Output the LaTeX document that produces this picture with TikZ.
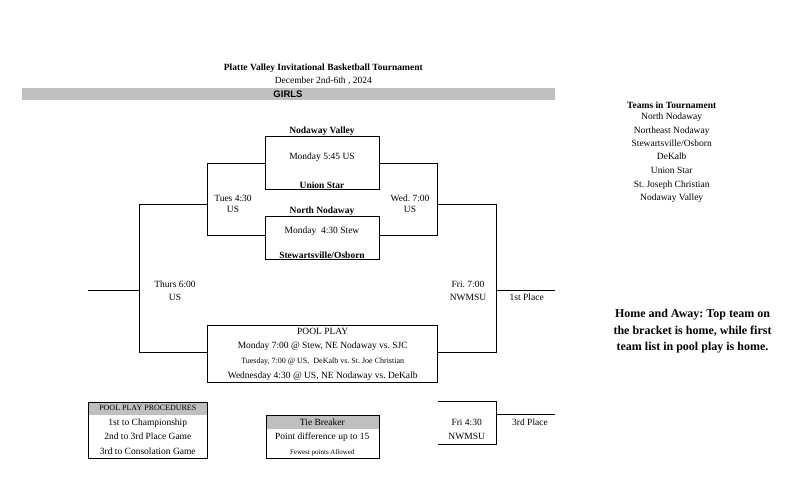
\documentclass[tikz,border=0pt]{standalone}
\usepackage{fontspec}
\setmainfont{Liberation Serif}
\setsansfont{Liberation Sans}
\definecolor{hdrgray}{RGB}{191,191,191}
\frenchspacing
\begin{document}
\begin{tikzpicture}[x=1pt,y=-1pt,
  txt/.style={inner sep=0pt,text height=7pt,text depth=1pt,font=\fontsize{9.5}{11}\selectfont},
  team/.style={txt,font=\fontsize{9.5}{11}\selectfont\bfseries},
  small/.style={txt,font=\fontsize{8}{9}\selectfont},
  tiny/.style={txt,font=\fontsize{7}{8}\selectfont},
  game/.style={draw,inner sep=0pt,minimum width=114,minimum height=53.3},
  panel/.style={draw,inner sep=0pt,anchor=north west}]
\pgfsetlinewidth{1pt}
\useasboundingbox (0,0) rectangle (786,487);
%
% heading
\node[team] (title) at (323.3,67.3) {Platte Valley Invitational Basketball Tournament};
\node[txt] (dates) at (323.3,80) {December 2nd-6th , 2024};
\fill[hdrgray] (22,88.3) rectangle (555,100);
\node[txt,font=\fontsize{9.5}{11}\selectfont\sffamily\bfseries] (girls) at (288,94) {GIRLS};
%
% first round games
\node[game] (g1) at (322,163.3) {};
\node[team] at (322,130) {Nodaway Valley};
\node[txt] at (322,156.7) {Monday 5:45 US};
\node[team] at (322,185) {Union Star};
\node[game,minimum height=43.3] (g2) at (322,238.3) {};
\node[team] at (322,210) {North Nodaway};
\node[txt] at (322,230.7) {Monday\ \ 4:30 Stew};
\node[team] at (322,255) {Stewartsville/Osborn};
%
% bracket corners
\coordinate (tues) at (207.7,204.3);
\coordinate (wed) at (437.3,204.3);
\coordinate (thur) at (139.5,290);
\coordinate (fri) at (496.5,290);
\coordinate (thurin) at (88,290);
\coordinate (first) at (555,290);
\draw (g1.west) -| (tues) |- ([yshift=2.6pt]g2.west);
\draw (g1.east) -| (wed) |- ([yshift=2.6pt]g2.east);
%
% pool play
\node[draw,inner sep=0pt,minimum width=230,minimum height=56.6] (pool) at (322.7,354) {};
\node[txt] at (322.7,331) {POOL PLAY};
\node[txt] at (322.7,345) {Monday 7:00 @ Stew, NE Nodaway vs. SJC};
\node[small] at (322.7,360) {Tuesday, 7:00 @ US,\ \ DeKalb vs. St. Joe Christian};
\node[txt] at (322.7,375) {Wednesday 4:30 @ US, NE Nodaway vs. DeKalb};
\draw (tues) -- (tues -| thur) |- ([yshift=2pt]pool.west);
\draw (wed) -- (wed -| fri) |- ([yshift=2pt]pool.east);
\draw (thurin) -- (thur);
\draw (fri) -- (first);
\node[txt] at (175,284) {Thurs 6:00};
\node[txt] at (175,297.7) {US};
\node[txt] at (233,198) {Tues 4:30};
\node[txt] at (233,209) {US};
\node[txt] at (410,198) {Wed. 7:00};
\node[txt] at (410,209) {US};
\node[txt] at (468,284) {Fri. 7:00};
\node[txt] at (468,297.7) {NWMSU};
\node[txt] at (526.7,297.7) {1st Place};
%
% third place game
\coordinate (third) at (496.7,414.3);
\coordinate (c3a) at (438.3,401.7);
\coordinate (c3b) at (438.3,444);
\coordinate (c3c) at (555,414.3);
\draw (c3a) -| (third) |- (c3b);
\draw (third) -- (c3c);
\node[txt] at (466.7,422.3) {Fri 4:30};
\node[txt] at (466.7,436.7) {NWMSU};
\node[txt] at (530,422.3) {3rd Place};
%
% procedures and tie breaker
\fill[hdrgray] (88.3,401.7) rectangle (207.3,415);
\node[panel,minimum width=119,minimum height=56.6] (proc) at (88.3,401.7) {};
\node[small] at (147.8,407.7) {POOL PLAY PROCEDURES};
\node[txt] at (147.8,422.3) {1st to Championship};
\node[txt] at (147.8,436.7) {2nd to 3rd Place Game};
\node[txt] at (147.8,451.7) {3rd to Consolation Game};
\fill[hdrgray] (265.7,415) rectangle (379,429.3);
\node[panel,minimum width=113.3,minimum height=43.3] (tie) at (265.7,415) {};
\node[txt] at (322.3,422.3) {Tie Breaker};
\node[txt] at (322.3,436.7) {Point difference up to 15};
\node[tiny] at (322.3,451.7) {Fewest points Allowed};
%
% side notes
\node[team] at (671.7,105) {Teams in Tournament};
\foreach \yy/\nm in {116.7/North Nodaway,130/Northeast Nodaway,143.3/{Stewartsville/Osborn},%
156.7/DeKalb,170/Union Star,184.3/St. Joseph Christian,197.7/Nodaway Valley}
\node[txt] at (671.7,\yy) {\nm};
\node[align=center,inner sep=0pt,font=\fontsize{12}{16.7}\selectfont\bfseries] (home) at (692.5,331.3)
 {Home and Away: Top team on\\the bracket is home, while first\\team list in pool play is home.};
\end{tikzpicture}
\end{document}
